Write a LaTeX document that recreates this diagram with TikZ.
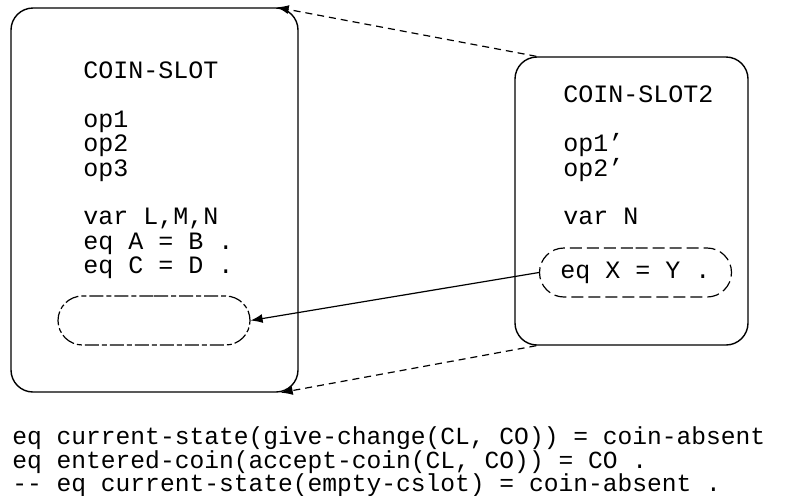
\documentclass[tikz,border=0pt]{standalone}
\usepackage{fontspec}
\usepackage{tikz}
\usetikzlibrary{arrows.meta, positioning, shapes.misc}
\newfontfamily\codefont{Liberation Mono}
\newcommand{\cd}{\codefont\fontsize{12.5}{12.2}\selectfont}
\newcommand{\cdsmall}{\codefont\fontsize{12.3}{11.75}\selectfont}

\begin{document}
\begin{tikzpicture}[x=0.5pt, y=-0.5pt, >={Latex[length=6pt,width=4.5pt]},
  module/.style={draw, line width=0.7pt, rounded corners=11pt, inner sep=0pt},
  slot/.style={rounded rectangle, draw, line width=0.6pt, minimum width=96pt, minimum height=24.5pt, inner sep=0pt},
  code/.style={font=\cd, anchor=base west, inner sep=0pt}]
  \useasboundingbox (0,0) rectangle (792,495);
  % the two modules
  \node[module, minimum width=143.5pt, minimum height=192pt] (lbox) at (154.5,200) {};
  \node[module, minimum width=116.5pt, minimum height=144pt] (rbox) at (631.5,201) {};
  % left module text
  \node[code] (lname) at (83,78.5) {COIN-SLOT};
  \node[code] (lopa) at (83,127.3) {op1};
  \node[code] (lopb) at (83,151.7) {op2};
  \node[code] (lopc) at (83,176.1) {op3};
  \node[code] (lvar) at (83,224.9) {var L,M,N};
  \node[code] (leqa) at (83,249.3) {eq A = B .};
  \node[code] (leqb) at (83,273.7) {eq C = D .};
  \node[slot, dash pattern=on 7pt off 1.5pt on 2.5pt off 1.5pt] (lslot) at (154,320.5) {};
  % right module text
  \node[code] (rname) at (563,102.9) {COIN-SLOT2};
  \node[code] (ropa) at (563,151.7) {op1’};
  \node[code] (ropb) at (563,176.1) {op2’};
  \node[code] (rvar) at (563,224.9) {var N};
  \node[slot, dash pattern=on 6pt off 2.5pt, font=\cd] (rslot) at (635.5,272.5) {eq X = Y .};
  % connectors
  \draw[->, line width=0.6pt] (rslot.west) -- (lslot.east);
  \draw[->, line width=0.6pt, dash pattern=on 3.5pt off 2.5pt] ([xshift=11pt]rbox.north west) -- ([xshift=-11pt]lbox.north east);
  \draw[->, line width=0.6pt, dash pattern=on 3.5pt off 2.5pt] ([xshift=11pt]rbox.south west) -- ([xshift=-9pt]lbox.south east);
  % equations below
  \node[code, font=\cdsmall] (eqa) at (12,444.5) {eq current-state(give-change(CL, CO)) = coin-absent};
  \node[code, font=\cdsmall] (eqb) at (12,468) {eq entered-coin(accept-coin(CL, CO)) = CO .};
  \node[code, font=\cdsmall] (eqc) at (12,491.5) {-{}- eq current-state(empty-cslot) = coin-absent .};
\end{tikzpicture}
\end{document}
